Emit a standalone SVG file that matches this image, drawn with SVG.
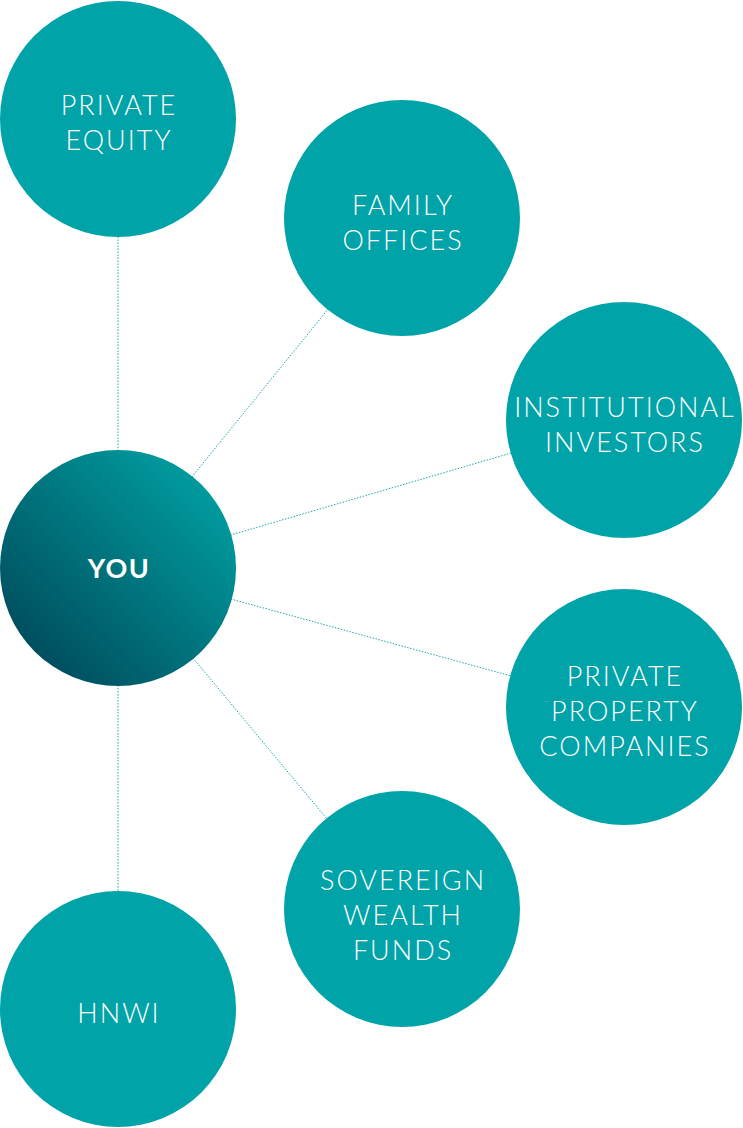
<svg xmlns="http://www.w3.org/2000/svg" width="743" height="1128" viewBox="0 0 743 1128">
<defs>
<linearGradient id="youGrad" x1="0.85" y1="0.15" x2="0.15" y2="0.85">
<stop offset="0" stop-color="#009a9d"/>
<stop offset="1" stop-color="#004f5f"/>
</linearGradient>
<style>
.node{fill:#00a3a8}
.lbl{font-family:Lato,"Open Sans","Liberation Sans",sans-serif;font-weight:300;font-size:27px;letter-spacing:2px;fill:#ffffff;text-anchor:middle}
.you{font-family:Lato,"Open Sans","Liberation Sans",sans-serif;font-weight:700;font-size:27px;letter-spacing:1.5px;fill:#ffffff;text-anchor:middle}
.conn{stroke:#1aa9ad;stroke-width:1;stroke-dasharray:1.5 1.5;fill:none}
</style>
</defs>
<rect width="743" height="1128" fill="#ffffff"/>
<g id="connectors">
<line class="conn" x1="118" y1="568" x2="118" y2="119"/>
<line class="conn" x1="118" y1="568" x2="402" y2="218"/>
<line class="conn" x1="118" y1="568" x2="624" y2="420"/>
<line class="conn" x1="118" y1="568" x2="624" y2="707"/>
<line class="conn" x1="118" y1="568" x2="402" y2="909"/>
<line class="conn" x1="118" y1="568" x2="118" y2="1009"/>
</g>
<g id="private-equity">
<circle class="node" cx="118" cy="119" r="118"/>
<text class="lbl" x="119" y="115">PRIVATE</text>
<text class="lbl" x="119" y="150">EQUITY</text>
</g>
<g id="family-offices">
<circle class="node" cx="402" cy="218" r="118"/>
<text class="lbl" x="403" y="215">FAMILY</text>
<text class="lbl" x="403" y="250">OFFICES</text>
</g>
<g id="institutional-investors">
<circle class="node" cx="624" cy="420" r="118"/>
<text class="lbl" x="625" y="417">INSTITUTIONAL</text>
<text class="lbl" x="625" y="452">INVESTORS</text>
</g>
<g id="you">
<circle cx="118" cy="568" r="118" fill="url(#youGrad)"/>
<text class="you" x="119" y="578">YOU</text>
</g>
<g id="private-property-companies">
<circle class="node" cx="624" cy="707" r="118"/>
<text class="lbl" x="625" y="686">PRIVATE</text>
<text class="lbl" x="625" y="721">PROPERTY</text>
<text class="lbl" x="625" y="756">COMPANIES</text>
</g>
<g id="sovereign-wealth-funds">
<circle class="node" cx="402" cy="909" r="118"/>
<text class="lbl" x="403" y="890">SOVEREIGN</text>
<text class="lbl" x="403" y="925">WEALTH</text>
<text class="lbl" x="403" y="960">FUNDS</text>
</g>
<g id="hnwi">
<circle class="node" cx="118" cy="1009" r="118"/>
<text class="lbl" x="119" y="1023">HNWI</text>
</g>
</svg>
